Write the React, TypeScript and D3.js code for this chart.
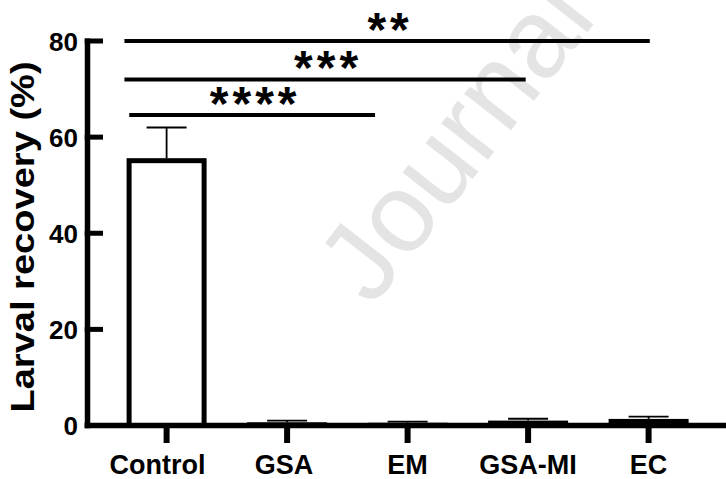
import React from "react";
import * as d3 from "d3";

const categories = ["Control", "GSA", "EM", "GSA-MI", "EC"];
const means = [55.1, 0.15, 0.05, 0.5, 0.85];
const sds = [6.9, 0.85, 0.75, 0.9, 1.0];
const yTicks = [0, 20, 40, 60, 80];
// significance brackets: start/end in category-index units, height in data units
const sigFrom = [-0.35, -0.35, -0.31];
const sigTo = [4.01, 2.98, 1.73];
const sigLevel = [80, 72, 64.6];
const sigLabel = ["**", "***", "****"];

const W = 726;
const H = 479;
const FONT = "'Liberation Sans', Arial, Helvetica, sans-serif";

export default function App() {
  const y = d3.scaleLinear().domain([0, 80]).range([425.5, 41]);
  const x = d3.scalePoint<string>().domain(categories).range([166.6, 648.6]);
  const xi = d3.scaleLinear().domain([0, categories.length - 1]).range([166.6, 648.6]);
  const barW = 75;
  const axisX = 87.5;

  return (
    <svg
      width={W}
      height={H}
      style={{ position: "absolute", left: 0, top: 0, background: "#fff" }}
      fontFamily={FONT}
    >
      <rect x={0} y={0} width={W} height={H} fill="#fff" />
      {/* watermark */}
      <text
        transform="translate(372,308) rotate(-52)"
        fontSize={112}
        fill="#e4e4e4"
        fontFamily={FONT}
      >
        Journal Pre-proof
      </text>

      {/* bars */}
      {categories.map((c, i) => {
        const cx = x(c)!;
        const top = y(means[i]);
        return (
          <rect
            key={c}
            x={cx - barW / 2}
            y={top}
            width={barW}
            height={y(0) - top}
            fill="#fff"
            stroke="#000"
            strokeWidth={5}
          />
        );
      })}
      {/* error bars (upper) */}
      {categories.map((c, i) => {
        const cx = x(c)!;
        const t = y(means[i] + sds[i]);
        const b = y(means[i]) - 2.5;
        return (
          <g key={"e" + c} stroke="#000" strokeWidth={1.8}>
            <line x1={cx} x2={cx} y1={b} y2={t} />
            <line x1={cx - 20} x2={cx + 20} y1={t} y2={t} />
          </g>
        );
      })}

      {/* y axis */}
      <line x1={axisX} x2={axisX} y1={y(80) - 2.5} y2={y(0) + 2.8} stroke="#000" strokeWidth={5.5} />
      {yTicks.map((t) => (
        <g key={t}>
          <line x1={axisX - 2.75} x2={103} y1={y(t)} y2={y(t)} stroke="#000" strokeWidth={5} />
          <text
            x={78}
            y={y(t)}
            dy="0.37em"
            textAnchor="end"
            fontSize={26}
            fontWeight="bold"
            fill="#000"
          >
            {t}
          </text>
        </g>
      ))}
      {/* x axis */}
      <line x1={axisX - 2.75} x2={W} y1={y(0)} y2={y(0)} stroke="#000" strokeWidth={5.6} />
      {categories.map((c, i) => (
        <g key={"x" + c}>
          <line x1={x(c)!} x2={x(c)!} y1={y(0)} y2={443} stroke="#000" strokeWidth={6} />
          <text
            x={x(c)! - (i === 0 ? 9 : i === 1 ? 3 : 0)}
            y={474}
            textAnchor="middle"
            fontSize={27}
            fontWeight="bold"
            fill="#000"
          >
            {c}
          </text>
        </g>
      ))}

      {/* y title */}
      <text
        transform={`translate(34,237) rotate(-90) scale(1.12,1)`}
        textAnchor="middle"
        fontSize={34}
        fontWeight="bold"
        fill="#000"
      >
        Larval recovery (%)
      </text>

      {/* significance */}
      {sigLabel.map((lab, i) => {
        const x1 = xi(sigFrom[i]);
        const x2 = xi(sigTo[i]);
        const ly = y(sigLevel[i]);
        return (
          <g key={"s" + i}>
            <line x1={x1} x2={x2} y1={ly} y2={ly} stroke="#000" strokeWidth={4} />
            <text
              x={(x1 + x2) / 2 + 3}
              y={ly + 5}
              textAnchor="middle"
              fontSize={48}
              fontWeight="bold"
              letterSpacing={4}
              fill="#000"
            >
              {lab}
            </text>
          </g>
        );
      })}
    </svg>
  );
}
